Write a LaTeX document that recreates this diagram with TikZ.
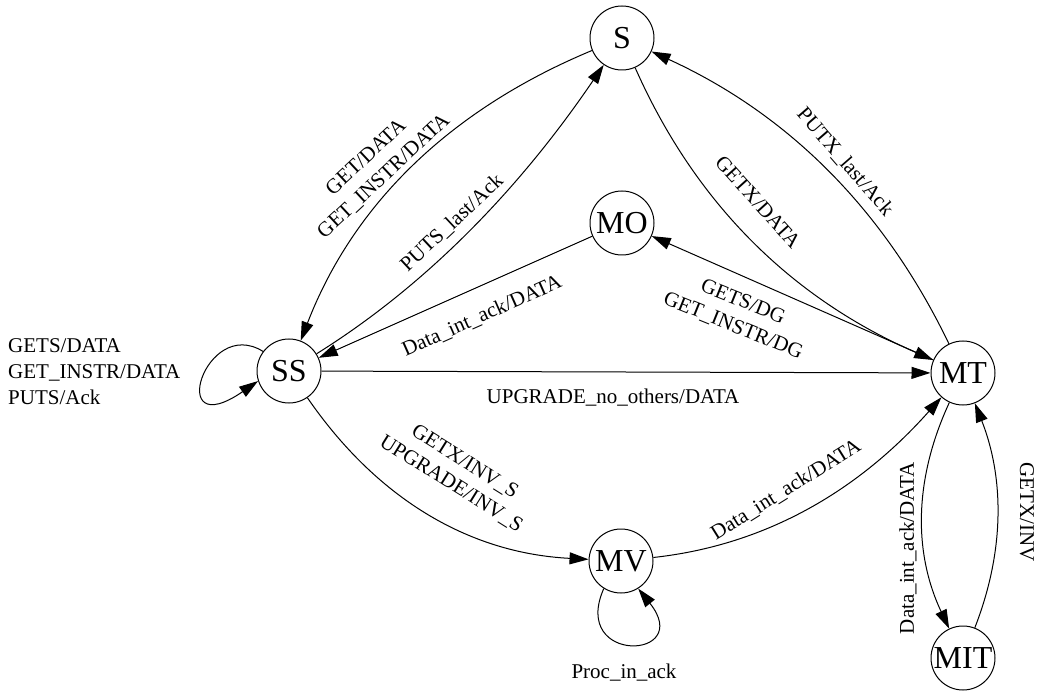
\documentclass[tikz,border=0pt]{standalone}
\usepackage{fontspec}
\setmainfont{Liberation Serif}
\usetikzlibrary{arrows.meta}
\begin{document}
\begin{tikzpicture}[x=1pt,y=-1pt,
  state/.style={circle,draw,line width=1pt,minimum size=64pt,inner sep=0pt,
    font=\fontsize{32}{38}\selectfont},
  trans/.style={line width=1pt,-{Triangle[length=19pt,width=12pt]}},
  lbl/.style={font=\fontsize{21}{26}\selectfont,align=center,inner sep=0pt}]
\useasboundingbox (0,0) rectangle (1037,695);

% states
\node[state] (S)   at (622,38)  {S};
\node[state] (MO)  at (622,223) {MO};
\node[state] (SS)  at (289,371) {SS};
\node[state] (MT)  at (963,373) {MT};
\node[state] (MV)  at (621,561) {MV};
\node[state] (MIT) at (963,658) {MIT};

% transitions between S and SS
\draw[trans] (S) .. controls (449,110) and (353,205) .. (SS);
\node[lbl,rotate=43] (l1) at (375,167) {GET/DATA\\GET\_INSTR/DATA};
\draw[trans] (SS) .. controls (422,288) and (516,194) .. (S);
\node[lbl,rotate=43] (l2) at (452,223) {PUTS\_last/Ack};

% transitions between S and MT
\draw[trans] (S) .. controls (695,203) and (791,298) .. (MT);
\node[lbl,rotate=-48] (l3) at (758,202) {GETX/DATA};
\draw[trans] (MT) .. controls (884,209) and (788,114) .. (S);
\node[lbl,rotate=-49] (l4) at (845,162) {PUTX\_last/Ack};

% transitions through MO
\draw[trans] (MO) -- (SS);
\node[lbl,rotate=24] (l5) at (482,316) {Data\_int\_ack/DATA};
\draw[trans] (MT) -- (MO);
\node[lbl,rotate=-22] (l6) at (738,314) {GETS/DG\\GET\_INSTR/DG};

% SS to MT
\draw[trans] (SS) -- (MT);
\node[lbl] (l7) at (613,398) {UPGRADE\_no\_others/DATA};

% SS self loop
\draw[trans] (SS.143) .. controls (205,315) and (165,445) .. (SS.198);
\node[lbl,align=left,anchor=west] (l8) at (8,372) {GETS/DATA\\GET\_INSTR/DATA\\PUTS/Ack};

% through MV
\draw[trans] (SS) .. controls (375,496) and (466,553) .. (MV);
\node[lbl,rotate=-32] (l9) at (458,473) {GETX/INV\_S\\UPGRADE/INV\_S};
\draw[trans] (MV) .. controls (768,545) and (860,489) .. (MT);
\node[lbl,rotate=32] (l10) at (786,490) {Data\_int\_ack/DATA};
\draw[trans] (MV.238) .. controls (570,665) and (695,660) .. (MV.302);
\node[lbl] (l11) at (624,673) {Proc\_in\_ack};

% MT and MIT
\draw[trans] (MT) .. controls (913,481) and (914,554) .. (MIT);
\node[lbl,rotate=90] (l12) at (908,548) {Data\_int\_ack/DATA};
\draw[trans] (MIT) .. controls (1004,553) and (1005,480) .. (MT);
\node[lbl,rotate=-90] (l13) at (1027,512) {GETX/INV};
\end{tikzpicture}
\end{document}
